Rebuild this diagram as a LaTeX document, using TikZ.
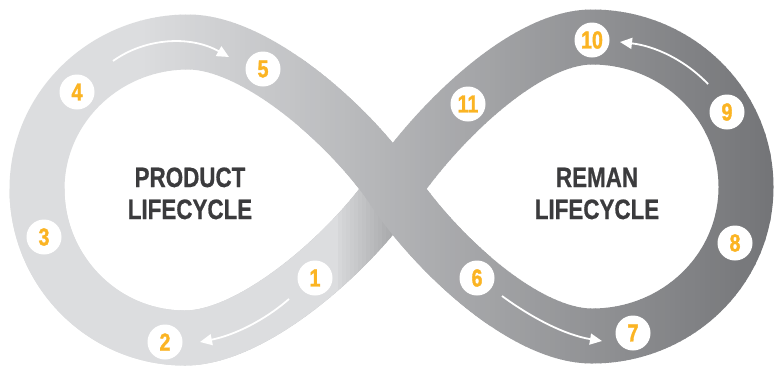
\documentclass[tikz,border=0pt]{standalone}
\usepackage{fontspec}
\newfontfamily\condf{Liberation Sans}[FakeStretch=0.8,BoldFeatures={FakeBold=0.6}]
\newfontfamily\numf{Liberation Sans}[FakeStretch=0.8,BoldFeatures={FakeBold=1.4}]
\usetikzlibrary{arrows.meta}
\definecolor{bandL}{HTML}{DCDDDF}
\definecolor{bandD}{HTML}{737477}
\definecolor{shadeD}{HTML}{A8A9AB}
\definecolor{numc}{HTML}{FBB423}
\definecolor{labc}{HTML}{3B3B3D}
\def\infpath{(393,189) .. controls (432,130) and (522,37) .. (592,37) .. controls (677,37) and (746,104) .. (746,187) .. controls (746,270) and (677,336) .. (592,336) .. controls (522,336) and (432,248) .. (393,189) .. controls (354,130) and (258,42) .. (188,42) .. controls (104.6,42) and (37,108) .. (37,189) .. controls (37,270) and (102,338) .. (185,338) .. controls (255,338) and (354,248) .. (393,189)}
\def\lowpath{(37,189) .. controls (37,270) and (102,338) .. (185,338) .. controls (255,338) and (354,248) .. (393,189)}
\def\overpath{(188,42) .. controls (258,42) and (354,130) .. (393,189) .. controls (432,248) and (522,336) .. (592,336)}
\tikzset{
  band/.style={line width=55pt},
  numdot/.style={circle,fill=white,minimum size=35pt,inner sep=0pt,text=numc,font=\numf\bfseries\fontsize{24.5}{24.5}\selectfont},
  lab/.style={anchor=base,text=labc,font=\condf\bfseries\fontsize{28}{28}\selectfont},
  flow/.style={white,line width=1.8pt,-{Triangle[length=12pt,width=11pt]}}
}
\begin{document}
\begin{tikzpicture}[x=1pt,y=-1pt]
\useasboundingbox (0,0) rectangle (775,368);
\fill[white] (0,0) rectangle (775,368);
% layer 1: whole band, horizontal gradient
\begin{scope}
  \clip (0,0) rectangle (141,368);
  \draw[band,bandL] \infpath;
\end{scope}
\foreach \i in {0,...,126} {
  \pgfmathsetmacro\xa{140+5*\i}
  \pgfmathsetmacro\pp{min(100,(\xa+2.5-140)/635*100)}
  \begin{scope}
    \clip (\xa,0) rectangle (\xa+5.6,368);
    \draw[band,color=bandD!\pp!bandL] \infpath;
  \end{scope}
}
% layer 2: lower-left branch, light with shadow near crossing
\begin{scope}
  \clip (0,0) rectangle (338.5,368);
  \draw[band,bandL] \lowpath;
\end{scope}
\foreach \i in {0,...,15} {
  \pgfmathsetmacro\xa{338+4*\i}
  \pgfmathsetmacro\pp{min(100,12+88*(\i/13))}
  \begin{scope}
    \clip (\xa,0) rectangle (\xa+4.6,368);
    \draw[band,color=shadeD!\pp!bandL] \lowpath;
  \end{scope}
}
% layer 3: over band near crossing
\foreach \i in {0,...,37} {
  \pgfmathsetmacro\xa{300+5*\i}
  \pgfmathsetmacro\pp{min(100,(\xa+2.5-140)/635*100)}
  \begin{scope}
    \clip (\xa,0) rectangle (\xa+5.6,368);
    \draw[band,color=bandD!\pp!bandL] \overpath;
  \end{scope}
}
% labels
\node[lab] (p1) at (190,187) {PRODUCT};
\node[lab] (p2) at (190,219) {LIFECYCLE};
\node[lab] (r1) at (597,187) {REMAN};
\node[lab] (r2) at (597,219) {LIFECYCLE};
% numbers
\node[numdot] (n1) at (315,278) {1};
\node[numdot] (n2) at (165,342) {2};
\node[numdot] (n3) at (44,237) {3};
\node[numdot] (n4) at (77,92) {4};
\node[numdot] (n5) at (263,69) {5};
\node[numdot] (n6) at (477,278) {6};
\node[numdot] (n7) at (633,333) {7};
\node[numdot] (n8) at (735,243) {8};
\node[numdot] (n9) at (727,112) {9};
\node[numdot] (n10) at (592,40) {10};
\node[numdot] (n11) at (468,104) {11};
% flow arrows
\coordinate (a1s) at (113,61); \coordinate (a1e) at (229,57);
\coordinate (a2s) at (289,299); \coordinate (a2e) at (200,342);
\coordinate (a3s) at (708,84); \coordinate (a3e) at (620,42);
\coordinate (a4s) at (502,296); \coordinate (a4e) at (602,341);
\draw[flow] (a1s) .. controls (145,38) and (190,35) .. (a1e);
\draw[flow] (a2s) .. controls (265,320) and (235,335) .. (a2e);
\draw[flow] (a3s) .. controls (685,60) and (655,46) .. (a3e);
\draw[flow] (a4s) .. controls (532,318) and (565,335) .. (a4e);
\end{tikzpicture}
\end{document}
